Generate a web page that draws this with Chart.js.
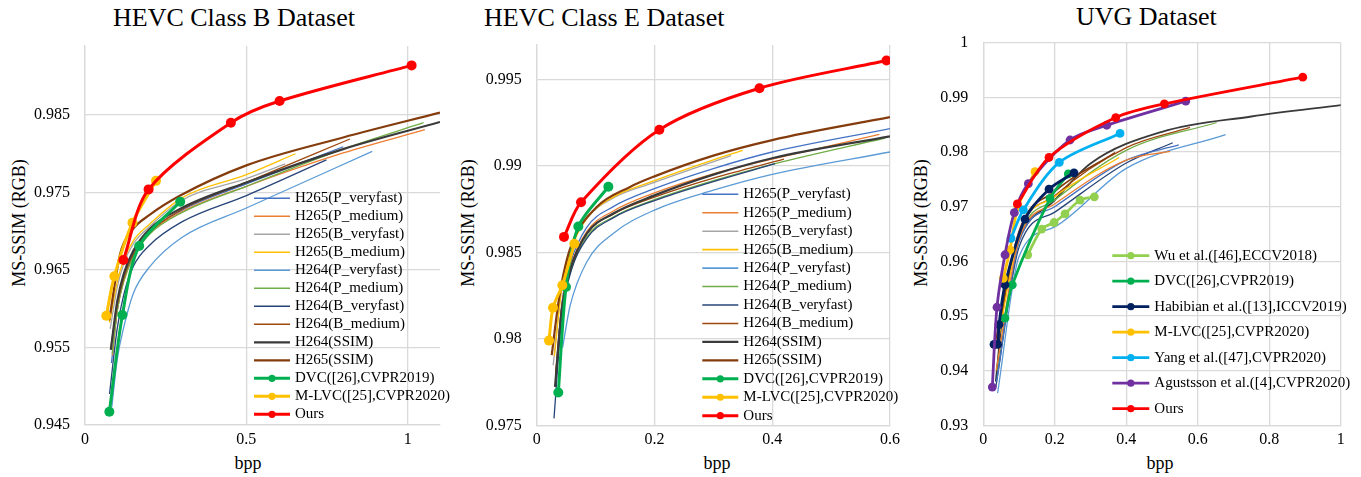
<!DOCTYPE html>
<html>
<head>
<meta charset="utf-8">
<script src="https://cdn.jsdelivr.net/npm/chart.js@4.4.1/dist/chart.umd.min.js"></script>
<style>
  body { margin: 0; background: #fff; }
  #wrap { position: relative; width: 1361px; height: 477px; overflow: hidden; font-family: 'Liberation Serif', 'Times New Roman', serif; color: #000; }
  canvas { position: absolute; top: 0; }
  .title { position: absolute; font-size: 26px; line-height: 30px; white-space: nowrap; }
  .ylab { position: absolute; font-size: 18px; line-height: 20px; white-space: nowrap; transform: translate(-50%, -50%) rotate(-90deg); }
  .xlab { position: absolute; font-size: 18px; line-height: 20px; white-space: nowrap; transform: translate(-50%, -50%); }
</style>
</head>
<body>
<div id="wrap">
  <div class="title" style="left:113px; top:3px">HEVC Class B Dataset</div>
  <div class="title" style="left:484px; top:3px">HEVC Class E Dataset</div>
  <div class="title" style="left:1076px; top:2px">UVG Dataset</div>
  <div class="ylab" style="left:19px; top:223px">MS-SSIM (RGB)</div>
  <div class="ylab" style="left:468px; top:223px">MS-SSIM (RGB)</div>
  <div class="ylab" style="left:921px; top:223px">MS-SSIM (RGB)</div>
  <div class="xlab" style="left:248px; top:463px">bpp</div>
  <div class="xlab" style="left:717px; top:463px">bpp</div>
  <div class="xlab" style="left:1160px; top:463px">bpp</div>
  <canvas id="chartB" width="450" height="477" style="left:0px"></canvas>
  <canvas id="chartE" width="455" height="477" style="left:450px"></canvas>
  <canvas id="chartU" width="456" height="477" style="left:905px"></canvas>
</div>
<script>
// Axis ticks
const b_xTicks = [0, 0.5, 1];
const b_yTicks = [0.945, 0.955, 0.965, 0.975, 0.985];
const e_xTicks = [0, 0.2, 0.4, 0.6];
const e_yTicks = [0.975, 0.98, 0.985, 0.99, 0.995];
const u_xTicks = [0, 0.2, 0.4, 0.6, 0.8, 1];
const u_yTicks = [0.93, 0.94, 0.95, 0.96, 0.97, 0.98, 0.99, 1];

// HEVC Class B  [bpp, MS-SSIM]
const b_h265_pvf  = [[0.082,0.9530],[0.10,0.9598],[0.12,0.9638],[0.15,0.9670],[0.2,0.9699],[0.3,0.9727],[0.5,0.9761],[0.80,0.9809]];
const b_h265_pmed = [[0.085,0.9540],[0.10,0.9598],[0.12,0.9635],[0.15,0.9667],[0.2,0.9697],[0.3,0.9725],[0.5,0.9758],[0.8,0.9801],[1.053,0.9831]];
const b_h265_bvf  = [[0.078,0.9574],[0.10,0.9628],[0.12,0.9658],[0.15,0.9684],[0.2,0.9706],[0.3,0.9740],[0.5,0.9768],[0.62,0.9787]];
const b_h265_bmed = [[0.076,0.9582],[0.10,0.9635],[0.12,0.9663],[0.15,0.9688],[0.2,0.9709],[0.3,0.9743],[0.5,0.9773],[0.652,0.9800]];
const b_h264_pvf  = [[0.083,0.9473],[0.10,0.9535],[0.12,0.9576],[0.15,0.9620],[0.2,0.9654],[0.3,0.9692],[0.5,0.9730],[0.89,0.9803]];
const b_h264_pmed = [[0.084,0.9542],[0.10,0.9598],[0.12,0.9636],[0.15,0.9667],[0.2,0.9696],[0.3,0.9724],[0.5,0.9758],[0.8,0.9806],[1.049,0.9840]];
const b_h264_bvf  = [[0.076,0.9490],[0.10,0.9575],[0.12,0.9618],[0.15,0.9655],[0.2,0.9682],[0.3,0.9712],[0.5,0.9746],[0.748,0.9792]];
const b_h264_bmed = [[0.080,0.9550],[0.10,0.9605],[0.12,0.9640],[0.15,0.9671],[0.2,0.9699],[0.3,0.9728],[0.5,0.9763],[0.821,0.9819]];
const b_h264_ssim = [[0.080,0.9547],[0.10,0.9610],[0.12,0.9645],[0.15,0.9675],[0.2,0.9703],[0.3,0.9730],[0.5,0.9763],[0.8,0.9806],[1.1,0.9841]];
const b_h265_ssim = [[0.075,0.9585],[0.109,0.9671],[0.145,0.9701],[0.2,0.9721],[0.295,0.9746],[0.5,0.9785],[0.8,0.9821],[1.1,0.9853]];
const b_dvc  = [[0.0755,0.9467],[0.116,0.9592],[0.168,0.9681],[0.295,0.9738]];
const b_mlvc = [[0.066,0.9591],[0.091,0.9642],[0.147,0.9711],[0.220,0.9765]];
const b_ours = [[0.119,0.9663],[0.197,0.9754],[0.452,0.9840],[0.603,0.9868],[1.012,0.9914]];

// HEVC Class E
const e_h265_pvf  = [[0.033,0.9780],[0.0425,0.9820],[0.0566,0.9843],[0.085,0.98645],[0.13,0.98765],[0.2,0.98869],[0.3,0.98985],[0.4,0.99081],[0.6,0.99216]];
const e_h265_pmed = [[0.033,0.9782],[0.0425,0.9819],[0.0566,0.9841],[0.085,0.9862],[0.13,0.9874],[0.2,0.98845],[0.3,0.98955],[0.4,0.9904],[0.582,0.99183]];
const e_h265_bvf  = [[0.028,0.97848],[0.0425,0.9830],[0.0566,0.9851],[0.085,0.98695],[0.13,0.98815],[0.2,0.98905],[0.33,0.9906]];
const e_h265_bmed = [[0.030,0.9790],[0.0425,0.9829],[0.0566,0.9850],[0.085,0.98695],[0.13,0.9882],[0.2,0.98915],[0.3,0.99035],[0.35,0.99091]];
const e_h264_pvf  = [[0.044,0.9795],[0.0566,0.9819],[0.085,0.98445],[0.13,0.98610],[0.2,0.98745],[0.3,0.98860],[0.4,0.98952],[0.6,0.99081]];
const e_h264_pmed = [[0.034,0.9780],[0.0425,0.9815],[0.0566,0.9838],[0.085,0.9859],[0.13,0.98705],[0.2,0.98805],[0.3,0.98915],[0.4,0.9901],[0.592,0.99162]];
const e_h264_bvf  = [[0.0294,0.9754],[0.0425,0.9813],[0.0566,0.9837],[0.085,0.9858],[0.13,0.98700],[0.2,0.98800],[0.3,0.98910],[0.405,0.99014]];
const e_h264_bmed = [[0.032,0.9780],[0.0425,0.9818],[0.0566,0.9840],[0.085,0.9861],[0.13,0.98722],[0.2,0.9882],[0.3,0.9893],[0.42,0.9904]];
const e_h264_ssim = [[0.0311,0.97722],[0.0425,0.98166],[0.0566,0.98397],[0.085,0.98609],[0.13,0.98725],[0.2,0.98830],[0.3,0.98950],[0.4,0.99045],[0.6,0.99172]];
const e_h265_ssim = [[0.0255,0.97906],[0.0367,0.98205],[0.0481,0.98416],[0.0622,0.98571],[0.102,0.98763],[0.1585,0.98879],[0.2,0.98940],[0.3,0.99060],[0.4,0.99150],[0.6,0.99283]];
const e_dvc  = [[0.0367,0.9769],[0.0498,0.9830],[0.0707,0.9865],[0.1217,0.9888]];
const e_mlvc = [[0.0209,0.9799],[0.0277,0.9818],[0.0435,0.9831],[0.0639,0.9855]];
const e_ours = [[0.0464,0.9859],[0.0753,0.9879],[0.2083,0.9921],[0.3783,0.9945],[0.594,0.9961]];

// UVG
const u_c_black  = [[0.035,0.9380],[0.06,0.9540],[0.1,0.9640],[0.2,0.9712],[0.3,0.9779],[0.5,0.9837],[0.75,0.9865],[1.003,0.9886]];
const u_c_green  = [[0.040,0.9400],[0.1,0.9640],[0.2,0.9712],[0.4,0.9803],[0.653,0.9854]];
const u_c_brown  = [[0.035,0.9440],[0.1,0.9650],[0.2,0.9720],[0.4,0.9808],[0.5785,0.9845]];
const u_c_lblue  = [[0.040,0.9359],[0.1,0.9609],[0.2,0.9663],[0.4,0.9770],[0.678,0.9832]];
const u_c_dblue  = [[0.035,0.9370],[0.1,0.9626],[0.2,0.9690],[0.4,0.9780],[0.530,0.9817]];
const u_c_blue   = [[0.037,0.9380],[0.1,0.9635],[0.2,0.9700],[0.4,0.9785],[0.547,0.9813]];
const u_c_orange = [[0.036,0.9400],[0.1,0.9640],[0.2,0.9705],[0.4,0.9785],[0.5225,0.9801]];
const u_c_yellow = [[0.040,0.9450],[0.1,0.9650],[0.2,0.9718],[0.38,0.9790]];
const u_c_brown2 = [[0.033,0.9450],[0.1,0.9655],[0.2,0.9728],[0.3686,0.9799]];
const u_wu        = [[0.1243,0.9612],[0.1634,0.9659],[0.1979,0.9671],[0.2287,0.9687],[0.2707,0.9712],[0.3107,0.9718]];
const u_dvc       = [[0.0607,0.9496],[0.0812,0.9557],[0.1867,0.9715],[0.2379,0.9760]];
const u_habibian  = [[0.030,0.9448],[0.040,0.9448],[0.044,0.9484],[0.0607,0.9557],[0.1167,0.9677],[0.1839,0.9732],[0.2538,0.9762]];
const u_mlvc      = [[0.056,0.9569],[0.0747,0.9621],[0.097,0.9700],[0.1447,0.9764]];
const u_yang      = [[0.0775,0.9642],[0.112,0.9694],[0.2127,0.9781],[0.3826,0.9834]];
const u_agustsson = [[0.0252,0.9370],[0.0383,0.9516],[0.0607,0.9612],[0.0868,0.9689],[0.126,0.9742],[0.2427,0.9822],[0.3454,0.9849],[0.5665,0.9893]];
const u_ours      = [[0.0952,0.9705],[0.1839,0.9790],[0.3706,0.9863],[0.5066,0.9888],[0.8938,0.9937]];

// Colors
const c_blue = '#4472C4', c_orange = '#ED7D31', c_gray = '#A5A5A5', c_gold = '#FFC000';
const c_lblue = '#5B9BD5', c_green = '#70AD47', c_dblue = '#264478', c_rust = '#9E480E';
const c_black = '#3A3A3A', c_brown = '#843C0C', c_dvc = '#00B050', c_red = '#FF0000';

const serif = "'Liberation Serif', 'Times New Roman', serif";
Chart.defaults.font.family = serif;
Chart.defaults.font.size = 16;
Chart.defaults.color = '#000';

function pts(arr) {
    return arr.map(p => ({x: p[0], y: p[1]}));
}

function codec(label, data, color, width, hide) {
    return {
        label: label, data: pts(data),
        borderColor: color, backgroundColor: color,
        borderWidth: width || 1.3, pointRadius: 0,
        cubicInterpolationMode: 'monotone',
        hideInLegend: !!hide,
    };
}

function method(label, data, color, r, width) {
    return {
        label: label, data: pts(data),
        borderColor: color, backgroundColor: color,
        borderWidth: width || 3, pointRadius: r, pointHoverRadius: r,
        pointBorderWidth: 0,
        tension: 0.3,
    };
}

// Legend drawn inside the plot area
const insideLegend = {
    id: 'insideLegend',
    afterDatasetsDraw(chart, args, o) {
        const ctx = chart.ctx;
        ctx.save();
        ctx.font = '15px ' + serif;
        ctx.textBaseline = 'middle';
        let y = o.y;
        chart.data.datasets.forEach(ds => {
            if (ds.hideInLegend) return;
            ctx.strokeStyle = ds.borderColor;
            ctx.lineWidth = Math.max(ds.borderWidth, 1.6);
            ctx.beginPath();
            ctx.moveTo(o.x, y);
            ctx.lineTo(o.x + o.len, y);
            ctx.stroke();
            if (ds.pointRadius > 0) {
                ctx.fillStyle = ds.borderColor;
                ctx.beginPath();
                ctx.arc(o.x + o.len / 2, y, 3.6, 0, Math.PI * 2);
                ctx.fill();
            }
            ctx.fillStyle = '#000';
            ctx.fillText(ds.label, o.x + o.len + 5, y);
            y += o.step;
        });
        ctx.restore();
    }
};

function makeChart(id, datasets, cfg) {
    const n = datasets.length;
    datasets.forEach((ds, i) => { ds.order = n - i; });
    const grid = { color: '#D9D9D9', lineWidth: 1.3, drawTicks: false };
    const border = { color: '#D9D9D9', width: 1.3 };
    const tickFont = { family: serif, size: 16 };
    return new Chart(document.getElementById(id), {
        type: 'line',
        data: { datasets: datasets },
        plugins: [insideLegend],
        options: {
            animation: false,
            responsive: false,
            layout: { padding: { top: cfg.top, right: cfg.right, left: 0, bottom: 0 } },
            plugins: {
                legend: { display: false },
                tooltip: { enabled: false },
                insideLegend: cfg.legend,
            },
            scales: {
                x: {
                    type: 'linear', min: cfg.xMin, max: cfg.xMax,
                    grid: grid, border: border,
                    afterBuildTicks: s => { s.ticks = cfg.xTicks.map(v => ({value: v})); },
                    afterFit: s => { s.height = 477 - cfg.bottom; },
                    ticks: { padding: 5, maxRotation: 0, autoSkip: false, color: '#000', font: tickFont, callback: v => String(v) },
                },
                y: {
                    type: 'linear', min: cfg.yMin, max: cfg.yMax,
                    grid: grid, border: border,
                    afterBuildTicks: s => { s.ticks = cfg.yTicks.map(v => ({value: v})); },
                    afterFit: s => { s.width = cfg.left; },
                    ticks: { padding: 15, autoSkip: false, color: '#000', font: tickFont, callback: v => String(v) },
                },
            },
        },
    });
}

makeChart('chartB', [
    codec('H265(P_veryfast)', b_h265_pvf, c_blue),
    codec('H265(P_medium)', b_h265_pmed, c_orange),
    codec('H265(B_veryfast)', b_h265_bvf, c_gray),
    codec('H265(B_medium)', b_h265_bmed, c_gold),
    codec('H264(P_veryfast)', b_h264_pvf, c_lblue),
    codec('H264(P_medium)', b_h264_pmed, c_green),
    codec('H264(B_veryfast)', b_h264_bvf, c_dblue),
    codec('H264(B_medium)', b_h264_bmed, c_rust),
    codec('H264(SSIM)', b_h264_ssim, c_black, 2.2),
    codec('H265(SSIM)', b_h265_ssim, c_brown, 2.2),
    method('DVC([26],CVPR2019)', b_dvc, c_dvc, 5),
    method('M-LVC([25],CVPR2020)', b_mlvc, c_gold, 5),
    method('Ours', b_ours, c_red, 5),
], {
    xMin: 0, xMax: 1.1, yMin: 0.945, yMax: 0.9939,
    xTicks: b_xTicks, yTicks: b_yTicks,
    left: 85, right: 10, top: 46, bottom: 425,
    legend: { x: 254, y: 198.3, len: 36, step: 18 },
});

makeChart('chartE', [
    codec('H265(P_veryfast)', e_h265_pvf, c_blue),
    codec('H265(P_medium)', e_h265_pmed, c_orange),
    codec('H265(B_veryfast)', e_h265_bvf, c_gray),
    codec('H265(B_medium)', e_h265_bmed, c_gold),
    codec('H264(P_veryfast)', e_h264_pvf, c_lblue),
    codec('H264(P_medium)', e_h264_pmed, c_green),
    codec('H264(B_veryfast)', e_h264_bvf, c_dblue),
    codec('H264(B_medium)', e_h264_bmed, c_rust),
    codec('H264(SSIM)', e_h264_ssim, c_black, 2.2),
    codec('H265(SSIM)', e_h265_ssim, c_brown, 2.2),
    method('DVC([26],CVPR2019)', e_dvc, c_dvc, 5),
    method('M-LVC([25],CVPR2020)', e_mlvc, c_gold, 5),
    method('Ours', e_ours, c_red, 5),
], {
    xMin: 0, xMax: 0.6, yMin: 0.975, yMax: 0.997,
    xTicks: e_xTicks, yTicks: e_yTicks,
    left: 86.7, right: 15, top: 45, bottom: 425.3,
    legend: { x: 252.3, y: 194.3, len: 36, step: 18.45 },
});

makeChart('chartU', [
    codec('H264', u_c_black, c_black, 1.8, true),
    codec('H264(P_medium)', u_c_green, c_green, 1.3, true),
    codec('H264(B_medium)', u_c_brown, c_rust, 1.3, true),
    codec('H264(P_veryfast)', u_c_lblue, c_lblue, 1.3, true),
    codec('H264(B_veryfast)', u_c_dblue, c_dblue, 1.3, true),
    codec('H265(P_veryfast)', u_c_blue, c_blue, 1.3, true),
    codec('H265(P_medium)', u_c_orange, c_orange, 1.3, true),
    codec('H265(B_medium)', u_c_yellow, c_gold, 1.3, true),
    codec('H265(SSIM)', u_c_brown2, c_brown, 1.6, true),
    method('Wu et al.([46],ECCV2018)', u_wu, '#92D050', 4.4, 2.8),
    method('DVC([26],CVPR2019)', u_dvc, c_dvc, 4.4, 2.8),
    method('Habibian et al.([13],ICCV2019)', u_habibian, '#002060', 4.4, 2.8),
    method('M-LVC([25],CVPR2020)', u_mlvc, c_gold, 4.4, 2.8),
    method('Yang et al.([47],CVPR2020)', u_yang, '#00B0F0', 4.4, 2.8),
    method('Agustsson et al.([4],CVPR2020)', u_agustsson, '#7030A0', 4.4, 2.8),
    method('Ours', u_ours, c_red, 4.4, 2.8),
], {
    xMin: 0, xMax: 1, yMin: 0.93, yMax: 1,
    xTicks: u_xTicks, yTicks: u_yTicks,
    left: 78.3, right: 20.3, top: 42.7, bottom: 425.3,
    legend: { x: 207.3, y: 255.7, len: 37, step: 25.5 },
});
</script>
</body>
</html>
